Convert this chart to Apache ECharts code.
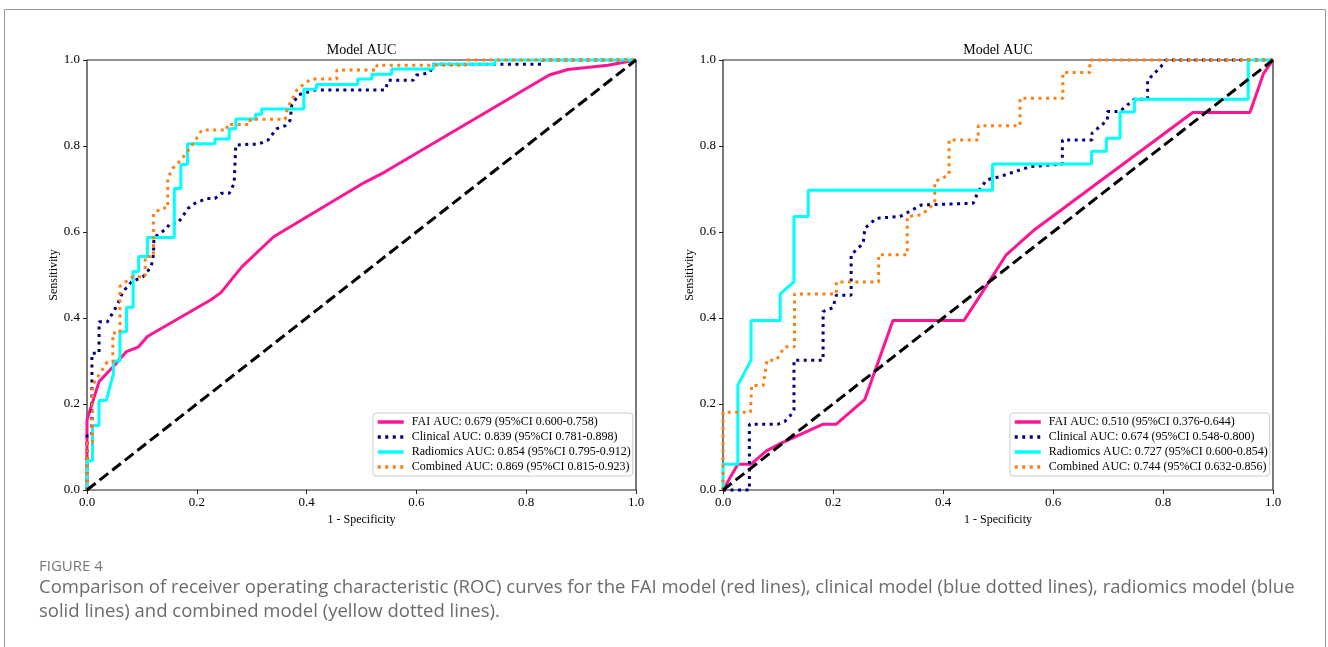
<!DOCTYPE html>
<html>
<head>
<meta charset="utf-8">
<script src="https://cdn.jsdelivr.net/npm/echarts@6/dist/echarts.min.js"></script>
<style>
  html, body { margin: 0; padding: 0; background: #fff; }
  #fig { width: 1328px; height: 647px; }
</style>
</head>
<body>
<div id="fig"></div>
<script>
// ---- data (x = 1 - specificity, y = sensitivity) ----
const ticks = [0, 0.2, 0.4, 0.6, 0.8, 1.0];
const diagX = [0, 1];
const diagY = [0, 1];

// left panel
const faiA_x = [0, 0, 0.022, 0.048, 0.072, 0.094, 0.110, 0.225, 0.244, 0.282, 0.340, 0.505, 0.543, 0.842, 0.876, 0.949, 1];
const faiA_y = [0, 0.163, 0.252, 0.287, 0.322, 0.333, 0.357, 0.442, 0.459, 0.519, 0.589, 0.715, 0.740, 0.965, 0.978, 0.988, 1];

const cliA_x = [0, 0, 0.009, 0.009, 0.022, 0.022, 0.037, 0.047, 0.055, 0.065, 0.081, 0.102, 0.117, 0.121, 0.122, 0.145, 0.151, 0.165, 0.172, 0.184, 0.197, 0.218, 0.233, 0.245, 0.259, 0.268, 0.271, 0.294, 0.312, 0.330, 0.345, 0.361, 0.370, 0.373, 0.385, 0.415, 0.543, 0.549, 0.594, 0.600, 0.612, 0.625, 0.631, 0.831, 0.831, 1];
const cliA_y = [0, 0.126, 0.126, 0.318, 0.318, 0.391, 0.391, 0.412, 0.430, 0.460, 0.484, 0.496, 0.519, 0.547, 0.587, 0.608, 0.620, 0.620, 0.632, 0.655, 0.667, 0.678, 0.678, 0.690, 0.690, 0.713, 0.802, 0.804, 0.804, 0.814, 0.840, 0.847, 0.860, 0.895, 0.919, 0.930, 0.930, 0.953, 0.953, 0.965, 0.967, 0.972, 0.990, 0.990, 1, 1];

const radA_x = [0, 0, 0.010, 0.010, 0.022, 0.022, 0.035, 0.048, 0.048, 0.060, 0.060, 0.072, 0.072, 0.084, 0.084, 0.094, 0.094, 0.110, 0.110, 0.159, 0.159, 0.171, 0.171, 0.183, 0.183, 0.233, 0.233, 0.259, 0.259, 0.271, 0.271, 0.307, 0.307, 0.318, 0.318, 0.395, 0.395, 0.418, 0.418, 0.493, 0.493, 0.519, 0.519, 0.555, 0.555, 0.631, 0.631, 0.743, 0.743, 1];
const radA_y = [0, 0.068, 0.068, 0.150, 0.150, 0.208, 0.208, 0.270, 0.300, 0.300, 0.368, 0.368, 0.425, 0.425, 0.508, 0.508, 0.543, 0.543, 0.587, 0.587, 0.701, 0.701, 0.757, 0.757, 0.805, 0.805, 0.816, 0.816, 0.840, 0.840, 0.863, 0.863, 0.874, 0.874, 0.886, 0.886, 0.932, 0.932, 0.943, 0.943, 0.956, 0.956, 0.967, 0.967, 0.979, 0.979, 0.990, 0.990, 1, 1];

const comA_x = [0, 0, 0.010, 0.010, 0.037, 0.047, 0.047, 0.060, 0.060, 0.083, 0.106, 0.106, 0.121, 0.121, 0.137, 0.147, 0.147, 0.156, 0.171, 0.185, 0.198, 0.209, 0.255, 0.255, 0.297, 0.297, 0.361, 0.365, 0.370, 0.382, 0.395, 0.409, 0.455, 0.455, 0.528, 0.528, 0.690, 0.690, 1];
const comA_y = [0, 0.110, 0.110, 0.244, 0.298, 0.298, 0.365, 0.365, 0.474, 0.496, 0.496, 0.543, 0.543, 0.643, 0.656, 0.656, 0.725, 0.748, 0.767, 0.791, 0.814, 0.837, 0.837, 0.850, 0.850, 0.862, 0.862, 0.888, 0.900, 0.930, 0.944, 0.956, 0.956, 0.977, 0.977, 0.988, 0.988, 1, 1];

const namesA = [
  'FAI AUC: 0.679 (95%CI 0.600-0.758)',
  'Clinical AUC: 0.839 (95%CI 0.781-0.898)',
  'Radiomics AUC: 0.854 (95%CI 0.795-0.912)',
  'Combined AUC: 0.869 (95%CI 0.815-0.923)'
];

// right panel
const faiB_x = [0, 0.027, 0.051, 0.079, 0.106, 0.182, 0.206, 0.258, 0.309, 0.438, 0.476, 0.515, 0.567, 0.854, 0.958, 0.983, 1];
const faiB_y = [0, 0.060, 0.060, 0.091, 0.109, 0.153, 0.153, 0.211, 0.394, 0.394, 0.469, 0.547, 0.606, 0.878, 0.878, 0.969, 1];

const cliB_x = [0, 0.048, 0.048, 0.100, 0.112, 0.123, 0.129, 0.129, 0.182, 0.182, 0.200, 0.206, 0.233, 0.233, 0.255, 0.258, 0.279, 0.322, 0.361, 0.455, 0.464, 0.479, 0.504, 0.558, 0.617, 0.617, 0.671, 0.671, 0.683, 0.699, 0.699, 0.721, 0.748, 0.772, 0.772, 0.796, 0.805, 1];
const cliB_y = [0, 0, 0.153, 0.153, 0.159, 0.174, 0.186, 0.302, 0.302, 0.415, 0.424, 0.453, 0.453, 0.547, 0.574, 0.609, 0.632, 0.636, 0.663, 0.667, 0.694, 0.721, 0.729, 0.752, 0.758, 0.814, 0.814, 0.830, 0.843, 0.860, 0.880, 0.880, 0.909, 0.909, 0.953, 0.984, 1, 1];

const radB_x = [0, 0, 0.027, 0.027, 0.051, 0.051, 0.104, 0.104, 0.129, 0.129, 0.155, 0.155, 0.490, 0.490, 0.670, 0.670, 0.697, 0.697, 0.722, 0.722, 0.748, 0.748, 0.955, 0.955, 1];
const radB_y = [0, 0.060, 0.060, 0.244, 0.302, 0.394, 0.394, 0.456, 0.484, 0.636, 0.636, 0.697, 0.697, 0.758, 0.758, 0.788, 0.788, 0.818, 0.818, 0.879, 0.879, 0.909, 0.909, 1, 1];

const comB_x = [0, 0, 0.050, 0.052, 0.073, 0.080, 0.097, 0.112, 0.130, 0.130, 0.206, 0.206, 0.283, 0.283, 0.335, 0.335, 0.361, 0.385, 0.385, 0.411, 0.411, 0.464, 0.464, 0.540, 0.540, 0.618, 0.618, 0.667, 0.667, 1];
const comB_y = [0, 0.181, 0.181, 0.243, 0.243, 0.302, 0.302, 0.333, 0.333, 0.456, 0.456, 0.484, 0.484, 0.547, 0.547, 0.636, 0.640, 0.667, 0.717, 0.733, 0.814, 0.814, 0.847, 0.847, 0.911, 0.911, 0.971, 0.971, 1, 1];

const namesB = [
  'FAI AUC: 0.510 (95%CI 0.376-0.644)',
  'Clinical AUC: 0.674 (95%CI 0.548-0.800)',
  'Radiomics AUC: 0.727 (95%CI 0.600-0.854)',
  'Combined AUC: 0.744 (95%CI 0.632-0.856)'
];

const colors = ['#ff1493', '#000080', '#00ffff', '#ff7f0e'];
const dashes = ['solid', [3, 4.5], 'solid', [3, 4.5]];

// ---- chart ----
const serif = 'Liberation Serif, Times New Roman, serif';
const sans = 'Open Sans, Lato, sans-serif';

function zip(xs, ys) {
  return xs.map((x, i) => [x, ys[i]]);
}

function axes(idx) {
  const common = {
    type: 'value', min: 0, max: 1, interval: 0.2,
    gridIndex: idx,
    splitLine: { show: false },
    axisLine: { show: false },
    axisTick: { show: true, length: 4, lineStyle: { color: '#222', width: 1 } },
    nameTextStyle: { fontFamily: serif, fontSize: 12, color: '#000' }
  };
  return {
    x: Object.assign({}, common, {
      name: '1 - Specificity', nameLocation: 'middle', nameGap: 20,
      axisLabel: { fontFamily: serif, fontSize: 13, color: '#000', margin: 6, formatter: v => v.toFixed(1) }
    }),
    y: Object.assign({}, common, {
      name: 'Sensitivity', nameLocation: 'middle', nameGap: idx === 0 ? 27 : 25,
      axisLabel: { fontFamily: serif, fontSize: 13, color: '#000', margin: 7, formatter: v => v.toFixed(1) }
    })
  };
}

function panelSeries(idx, names, xs, ys) {
  const out = names.map((n, i) => ({
    name: n, type: 'line',
    xAxisIndex: idx, yAxisIndex: idx,
    data: zip(xs[i], ys[i]),
    symbol: 'none', clip: false, z: 2 + i,
    lineStyle: { color: colors[i], width: 3, type: dashes[i], cap: 'butt' },
    itemStyle: { color: colors[i] }
  }));
  out.push({
    type: 'line', xAxisIndex: idx, yAxisIndex: idx,
    data: zip(diagX, diagY), symbol: 'none', clip: false, z: 10,
    lineStyle: { color: '#000', width: 3, type: [11, 5] }
  });
  return out;
}

const aA = axes(0), aB = axes(1);

function legend(left, names) {
  return {
    orient: 'vertical', left: left, top: 413,
    data: names,
    itemWidth: 26, itemHeight: 14, itemGap: 3,
    padding: [3, 2, 3, 3],
    backgroundColor: '#fff', borderColor: '#ccc', borderWidth: 1, borderRadius: 3,
    // hide the marker that ECharts puts in the middle of a line icon
    itemStyle: { opacity: 0, borderWidth: 0 },
    lineStyle: { width: 3.5 },
    textStyle: { fontFamily: serif, fontSize: 12, color: '#000', padding: [0, 0, 0, 3] }
  };
}

const chart = echarts.init(document.getElementById('fig'), null, { renderer: 'canvas' });

chart.setOption({
  animation: false,
  backgroundColor: '#fff',
  grid: [
    { left: 87, top: 60, width: 549, height: 430, show: true, borderColor: '#222', borderWidth: 1.2, backgroundColor: 'transparent' },
    { left: 723, top: 60, width: 550, height: 430, show: true, borderColor: '#222', borderWidth: 1.2, backgroundColor: 'transparent' }
  ],
  xAxis: [aA.x, aB.x],
  yAxis: [aA.y, aB.y],
  legend: [legend(373, namesA), legend(1010, namesB)],
  series: panelSeries(0, namesA, [faiA_x, cliA_x, radA_x, comA_x], [faiA_y, cliA_y, radA_y, comA_y])
    .concat(panelSeries(1, namesB, [faiB_x, cliB_x, radB_x, comB_x], [faiB_y, cliB_y, radB_y, comB_y])),
  graphic: [
    // figure frame
    { type: 'polyline', silent: true, shape: { points: [[4.5, 647], [4.5, 9.5], [1325.5, 9.5], [1325.5, 647]] }, style: { stroke: '#999', lineWidth: 1, fill: null } },
    { type: 'text', x: 361.5, y: 50, style: { text: 'Model AUC', font: '14px ' + serif, fill: '#000', align: 'center', verticalAlign: 'middle' } },
    { type: 'text', x: 998, y: 50, style: { text: 'Model AUC', font: '14px ' + serif, fill: '#000', align: 'center', verticalAlign: 'middle' } },
    { type: 'text', x: 39, y: 567, style: { text: 'FIGURE 4', font: '15px ' + sans, fill: '#777', verticalAlign: 'middle' } },
    { type: 'text', x: 39, y: 588, style: { text: 'Comparison of receiver operating characteristic (ROC) curves for the FAI model (red lines), clinical model (blue dotted lines), radiomics model (blue', font: '18.5px ' + sans, fill: '#6b6b6b', verticalAlign: 'middle' } },
    { type: 'text', x: 39, y: 612, style: { text: 'solid lines) and combined model (yellow dotted lines).', font: '18.5px ' + sans, fill: '#6b6b6b', verticalAlign: 'middle' } }
  ]
});
</script>
</body>
</html>
